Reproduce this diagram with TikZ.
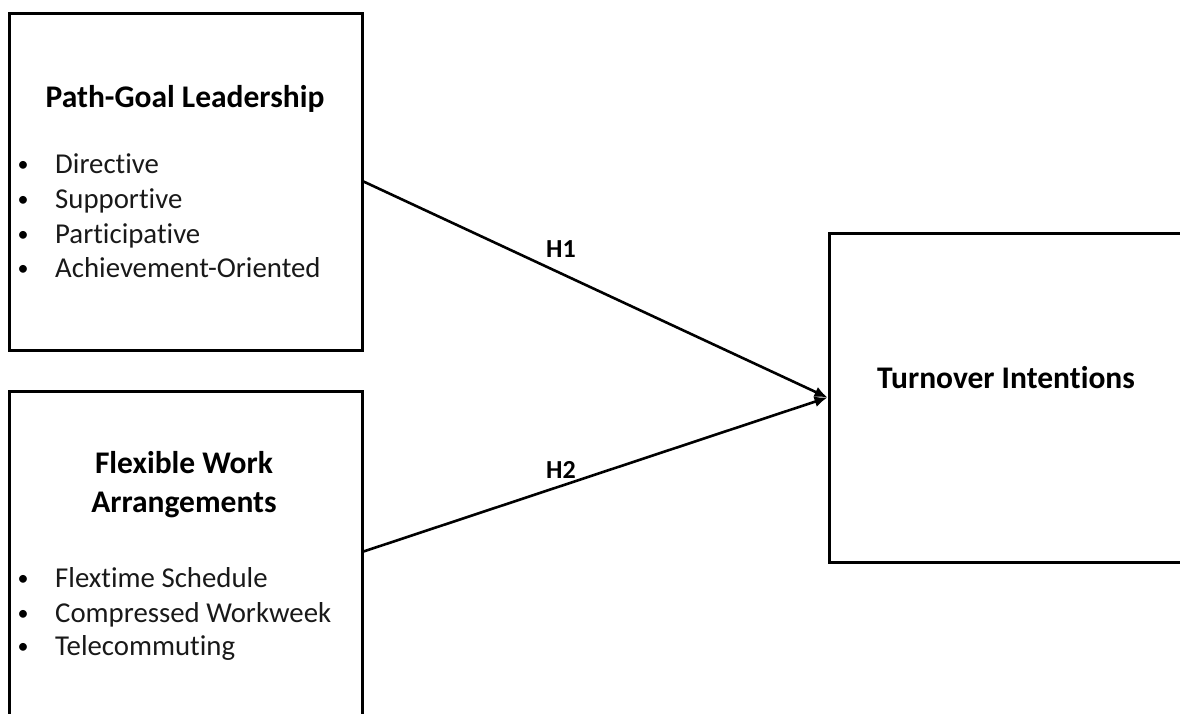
\documentclass[tikz,border=0pt]{standalone}
\usepackage{fontspec}
\setmainfont{Carlito}[Ligatures=NoCommon]
\usetikzlibrary{calc,arrows.meta}
\begin{document}
\begin{tikzpicture}[x=1pt,y=-1pt,
  box/.style={draw,line width=3pt,inner sep=0pt},
  conn/.style={line width=2.6pt,-{Latex[length=13pt,width=11pt]}},
  ttl/.style={font=\fontsize{31.5}{36}\selectfont\bfseries,anchor=base,inner sep=0pt},
  itm/.style={font=\fontsize{28.8}{32}\selectfont,anchor=base west,inner sep=0pt,text=black!90},
  bul/.style={font=\fontsize{22}{26}\selectfont,anchor=base,inner sep=0pt},
  hyp/.style={font=\fontsize{26}{30}\selectfont\bfseries,anchor=base,inner sep=0pt}]
\useasboundingbox (0,0) rectangle (1180,713);
\clip (0,0) rectangle (1180,713);
\node[box,minimum width=353pt,minimum height=337pt] (b1) at (185.5,181.5) {};
\node[box,minimum width=353pt,minimum height=340pt] (b2) at (185.5,561) {};
\node[box,minimum width=361pt,minimum height=329pt] (b3) at (1009.5,397.5) {};
% box 1 text
\node[ttl] (t1) at (185,107) {Path-Goal Leadership};
\foreach \y/\t [count=\i] in {173/Directive,208/Supportive,243/Participative,277/Achievement-Oriented}{
  \node[bul] (p\i) at (23,\y-2) {\textbullet};
  \node[itm] (q\i) at (55,\y) {\t};
}
% box 2 text
\node[ttl] (t2a) at (184,473) {Flexible Work};
\node[ttl] (t2b) at (184,512) {Arrangements};
\foreach \y/\t [count=\i] in {587/Flextime Schedule,622/Compressed Workweek,655/Telecommuting}{
  \node[bul] (r\i) at (23,\y-2) {\textbullet};
  \node[itm] (s\i) at (55,\y) {\t};
}
% box 3 text
\node[ttl] (t3) at (1006,388) {Turnover Intentions};
% connectors
\coordinate (st2) at ($(b2.north east)+(0,162)$);
\draw[conn] (b1.east) -- (b3.west);
\draw[conn] (st2) -- (b3.west);
\node[hyp] (h1) at (561,257) {H1};
\node[hyp] (h2) at (561,478) {H2};
\end{tikzpicture}
\end{document}
